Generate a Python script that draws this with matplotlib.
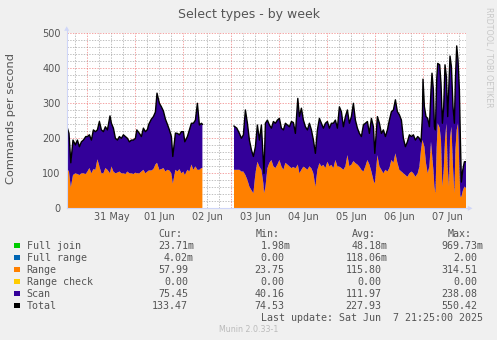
import numpy as np
import matplotlib
matplotlib.use("Agg")
import matplotlib.pyplot as plt
from matplotlib.patches import Rectangle, Polygon
from matplotlib.lines import Line2D

# ---- data (hours since 31 May 00:00; NaN marks the data gap) ----
hours = [-10.35, -10, -9.2, -8.3, -7.2, -6, -5, -4, -3, -2, -0.8, 0, 1, 2, 3, 4, 5, 6, 7, 8, 9, 10, 11.3, 12, 13, 14, 15, 16, 17,
         18, 19, 20, 21, 22, 23, 24, 24.7, 26, 27, 28, 29, 30, 30.7, 32, 33, 34, 34.8, 36, 37, 38, 39, 40, 41, 42, 42.7, 44, 45, 46,
         47, 48, 48.7, 50, 51, 52, 53, 54, 55, 56, 57, 57.5,
         65,
         73.3, 74.7, 76, 77, 78, 79, 80, 81, 82, 83, 84, 85, 86, 87, 88, 88.3, 89, 90, 91, 92, 93, 94, 95, 96, 97, 98, 99, 100, 101, 102,
         103, 104, 105.2, 106, 107, 108, 109, 110, 111, 112, 113, 114, 115, 116, 117, 118, 119, 120, 121, 122, 123, 124, 125, 126, 127, 128, 129, 130, 131,
         132, 133, 134, 135, 136, 137, 138, 139, 140, 141, 142, 143, 143.7, 145, 146, 147, 148, 149, 150, 151, 152, 153, 154, 155, 156, 157, 158, 159, 160,
         161, 162, 163, 164, 165.15, 166, 166.8, 167.5, 167.8, 168.5, 169.3, 170.15, 171, 171.8, 172.3, 173, 173.5, 174, 174.65, 175.15,
         176.15, 176.8, 177.5, 178.15, 178.8, 179.5, 180.15, 180.8, 181.3, 182, 182.8, 183.5, 184, 184.65, 185.3, 186, 186.5, 187, 187.7, 188.5, 189.3]

total_vals = [215, 229, 214, 130, 195, 181, 195, 176, 190, 195, 205, 205, 210, 195, 224, 219, 224, 248, 224, 219, 233, 224, 264, 243, 229, 200, 195, 205, 200,
              210, 205, 200, 190, 195, 195, 200, 224, 214, 205, 229, 219, 225, 240, 255, 262, 275, 329, 300, 290, 278, 255, 240, 224, 205, 148, 215, 214, 210,
              219, 219, 190, 205, 224, 243, 243, 252, 300, 238, 243, 240,
              np.nan,
              235, 229, 214, 200, 210, 281, 243, 195, 167, 148, 176, 238, 195, 238, 129, 100, 243, 252, 238, 229, 248, 243, 252, 257, 229, 224, 243, 238, 233, 248,
              245, 214, 314, 262, 286, 252, 233, 224, 243, 224, 195, 157, 224, 257, 243, 229, 243, 248, 229, 243, 243, 252, 229, 290, 276, 233, 262, 281, 243,
              262, 300, 252, 229, 214, 205, 238, 243, 248, 214, 257, 233, 157, 262, 243, 214, 224, 205, 224, 252, 276, 281, 310, 276, 267, 252, 200, 176, 190,
              210, 205, 210, 195, 205, 200, 190, 262, 369, 290, 262, 257, 233, 338, 386, 338, 233, 224, 367, 414,
              410, 357, 243, 290, 410, 376, 262, 357, 435, 405, 290, 243, 367, 464, 424, 338, 195, 75, 110, 133, 133]

range_vals = [110, 112, 105, 60, 95, 100, 98, 95, 100, 100, 98, 105, 115, 100, 112, 110, 140, 120, 100, 100, 115, 110, 100, 120, 105, 100, 102, 105, 100,
              100, 98, 105, 100, 100, 98, 102, 100, 100, 105, 110, 100, 105, 108, 108, 112, 125, 130, 110, 112, 115, 105, 110, 108, 100, 70, 110, 105, 112,
              100, 105, 95, 110, 105, 125, 110, 120, 110, 110, 115, 115,
              np.nan,
              110, 110, 110, 105, 105, 95, 81, 62, 52, 43, 100, 133, 119, 110, 71, 43, 60, 115, 130, 138, 120, 115, 125, 138, 120, 110, 130, 125, 120, 115,
              118, 114, 125, 100, 110, 119, 115, 110, 120, 114, 100, 62, 110, 129, 120, 124, 115, 133, 120, 124, 115, 138, 120, 119, 115, 110, 120, 152, 120,
              125, 135, 129, 125, 119, 110, 105, 120, 138, 125, 105, 81, 70, 152, 120, 110, 100, 110, 105, 115, 138, 130, 157, 130, 110, 105, 100, 95, 90,
              100, 105, 100, 90, 100, 119, 167, 195, 190, 176, 129, 100, 120, 190, 157, 110, 62, 43, 176, 243,
              230, 195, 62, 110, 195, 243, 120, 62, 200, 233, 119, 43, 167, 224, 243, 110, 33, 33, 50, 62, 58]

legend_names = ["Full join", "Full range", "Range", "Range check", "Scan", "Total"]
legend_colors = ["#00CC00", "#0066B3", "#FF8000", "#FFCC00", "#330099", "#000000"]
cur_vals = ["23.71m", "4.02m", "57.99", "0.00", "75.45", "133.47"]
min_vals = ["1.98m", "0.00", "23.75", "0.00", "40.16", "74.53"]
avg_vals = ["48.18m", "118.06m", "115.80", "0.00", "111.97", "227.93"]
max_vals = ["969.73m", "2.00", "314.51", "0.00", "238.08", "550.42"]

day_lines = [0, 24, 48, 72, 96, 120, 144, 168]
day_label_pos = [12, 36, 60, 84, 108, 132, 156, 180]
day_labels = ["31 May", "01 Jun", "02 Jun", "03 Jun", "04 Jun", "05 Jun", "06 Jun", "07 Jun"]
y_ticks = [0, 100, 200, 300, 400, 500]

# ---- layout ----
W, H = 497, 340
TXT = "#555555"
AXC = "#CFD6F8"
fig = plt.figure(figsize=(W / 100, H / 100), dpi=100, facecolor="#F0F0F0")

def fx(x):
    return x / W

def fy(y):
    return 1 - y / H

X0, X1, YT, YB = 66.7, 466.0, 33.3, 208.3
ax = fig.add_axes([fx(X0), fy(YB), (X1 - X0) / W, (YB - YT) / H])
ax.set_facecolor("white")
for s in ax.spines.values():
    s.set_visible(False)
ax.set_xlim(-10.35, 189.3)
ax.set_ylim(0, 500)
ax.set_xticks([])
ax.set_yticks([])

# grid
minor_c = (0.5, 0.5, 0.5, 0.5)
major_c = (0.9, 0.2, 0.2, 0.45)
dash = (0, (1.4, 1.4))
for v in np.arange(-6, 190, 6):
    if v % 24 != 0:
        ax.axvline(v, color=minor_c, lw=0.7, ls=dash, zorder=0.5)
for v in day_lines:
    ax.axvline(v, color=major_c, lw=0.7, ls=dash, zorder=0.6)
for v in range(20, 501, 20):
    if v % 100 != 0:
        ax.axhline(v, color=minor_c, lw=0.7, ls=dash, zorder=0.5)
for v in y_ticks[1:]:
    ax.axhline(v, color=major_c, lw=0.7, ls=dash, zorder=0.6)

h = np.array(hours, float)
r = np.array(range_vals, float)
t = np.array(total_vals, float)
ax.fill_between(h, 0, r, color="#FF8000", lw=0, zorder=2)
ax.fill_between(h, r, t, color="#330099", lw=0, zorder=2)
ax.plot(h, t, color="#000000", lw=1.0, zorder=3)

# axes lines and arrows
fig.add_artist(Line2D([fx(X0), fx(X0)], [fy(YB), fy(29)], color=AXC, lw=0.8))
fig.add_artist(Line2D([fx(X0), fx(469)], [fy(YB), fy(YB)], color=AXC, lw=0.8))
fig.add_artist(Polygon([(fx(64.2), fy(30.8)), (fx(69.2), fy(30.8)), (fx(X0), fy(26.3))],
                       closed=True, color=AXC, lw=0))
fig.add_artist(Polygon([(fx(467.8), fy(205.8)), (fx(467.8), fy(210.8)), (fx(472.5), fy(YB))],
                       closed=True, color=AXC, lw=0))

# tick labels
for v in y_ticks:
    yp = YB - (YB - YT) * v / 500
    fig.text(fx(60.5), fy(yp + 3.4), str(v), ha="right", va="baseline", fontsize=7, color=TXT)
for pos, lab in zip(day_label_pos, day_labels):
    xp = 87.7 + 2 * pos
    fig.text(fx(xp), fy(220), lab, ha="center", va="baseline", fontsize=7, color=TXT)

fig.text(fx(248.5), fy(18.3), "Select types - by week", ha="center", va="baseline", fontsize=9, color=TXT)
fig.text(fx(11), fy(119), "Commands per second", rotation=90, ha="center", va="center", fontsize=8.2, color=TXT)
fig.text(fx(488.5), fy(57), "RRDTOOL / TOBI OETIKER", rotation=270, ha="center", va="center",
         fontsize=5.7, color="#C8C8C8")

# legend
MONO = "DejaVu Sans Mono"
FS = 7.2
CW = 5.98
for lab, xs in zip(["Cur:", "Min:", "Avg:", "Max:"], [158.7, 256.0, 351.7, 447.7]):
    fig.text(fx(xs), fy(237), lab, ha="left", va="baseline", fontsize=FS, family=MONO, color=TXT)
col_edges = [194.0, 290.7, 387.3, 483.3]
for i, name in enumerate(legend_names):
    yb = 249 + 12 * i
    fig.add_artist(Rectangle((fx(14.0), fy(yb - 0.7)), 5.6 / W, 5.6 / H, transform=fig.transFigure,
                             color=legend_colors[i], lw=0))
    fig.text(fx(26.7), fy(yb), name, ha="left", va="baseline", fontsize=FS, family=MONO, color=TXT)
    for edge, col in zip(col_edges, [cur_vals, min_vals, avg_vals, max_vals]):
        s = col[i]
        xe = edge if s.endswith("m") else edge - CW
        fig.text(fx(xe), fy(yb), s, ha="right", va="baseline", fontsize=FS, family=MONO, color=TXT)

fig.text(fx(483.3), fy(321), "Last update: Sat Jun  7 21:25:00 2025", ha="right", va="baseline",
         fontsize=FS, family=MONO, color=TXT)
fig.text(fx(248.7), fy(331.5), "Munin 2.0.33-1", ha="center", va="baseline", fontsize=5.7, color="#BBBBBB")

fig.savefig("out.png", dpi=100, facecolor=fig.get_facecolor())
